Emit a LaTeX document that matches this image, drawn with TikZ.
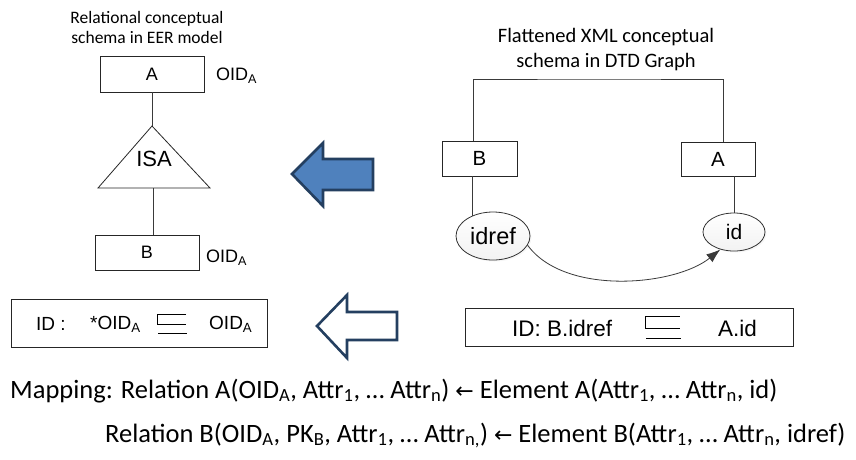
\documentclass[tikz,border=0pt]{standalone}
\usepackage{fontspec}
\setmainfont{Carlito}
\newfontfamily\arialf{Liberation Sans}
\newfontfamily\symf{DejaVu Sans}
\usetikzlibrary{arrows.meta,shadows,shapes.geometric}

\definecolor{navy}{HTML}{243F60}
\definecolor{officeblue}{HTML}{4F81BD}
\definecolor{linkgray}{HTML}{3A3A3A}

\begin{document}
\begin{tikzpicture}[x=1pt,y=1pt,
  entity/.style={draw=black!85, line width=0.8pt, inner sep=0pt,
    font=\arialf\fontsize{18}{18}\selectfont},
  xentity/.style={entity, font=\arialf\fontsize{20.5}{20.5}\selectfont},
  attrib/.style={ellipse, draw=black!80, line width=0.8pt, inner sep=0pt,
    top color=white, bottom color=black!5,
    drop shadow={opacity=0.07, shadow xshift=1.5pt, shadow yshift=-1.5pt},
    font=\arialf\fontsize{23.5}{23.5}\selectfont},
  link/.style={draw=linkgray, line width=0.8pt},
  heading/.style={align=center, font=\fontsize{17.5}{20}\selectfont, inner sep=0pt},
  sidelabel/.style={anchor=west, inner sep=0pt, font=\arialf\fontsize{18}{18}\selectfont},
  eqbox/.style={draw=black!85, line width=0.8pt, inner sep=0pt},
  eqtext/.style={anchor=west, inner sep=0pt, font=\arialf\fontsize{19}{19}\selectfont},
  maptext/.style={anchor=base west, inner sep=0pt, font=\fontsize{26.5}{29}\selectfont},
  bigarrow/.style={draw=navy, line width=2.6pt, line join=miter},
  subeq/.pic={
    \draw[line width=0.9pt] (29,0) -- (0,0) -- (0,-10) -- (29,-10);
    \draw[line width=0.9pt] (1,-19) -- (30,-19);
  }
]
\useasboundingbox (0,0) rectangle (856,-459);
\fill[white] (0,0) rectangle (856,-459);

% ---------- EER schema (left) ----------
\node[heading] (eertitle) at (147,-27) {Relational conceptual\\schema in EER model};
\node[entity, minimum width=104, minimum height=36] (eA) at (152,-74) {A};
\node[sidelabel] (oidA) at (216,-76) {OID\textsubscript{A}};

\coordinate (apex) at (152,-126);
\coordinate (bl) at (98,-188);
\coordinate (br) at (210,-188);
\coordinate (basemid) at (153,-188);
\draw[line width=0.8pt, draw=black!85] (apex) -- (br) -- (bl) -- cycle;
\node[inner sep=0pt, font=\arialf\fontsize{22}{22}\selectfont] (isa) at (154,-159) {ISA};

\node[entity, minimum width=104, minimum height=35] (eB) at (147,-252.5) {B};
\node[sidelabel] (oidB) at (206,-258) {OID\textsubscript{A}};

\draw[link] (eA.south) -- (apex);
\draw[link] (basemid) -- (basemid |- eB.north);

% ---------- DTD graph (right) ----------
\node[heading, font=\fontsize{20.5}{25}\selectfont] (dtdtitle) at (606,-50) {Flattened XML conceptual\\schema in DTD Graph};
\node[xentity, minimum width=75, minimum height=35] (xB) at (479.5,-158.5) {B};
\node[xentity, minimum width=74, minimum height=34] (xA) at (718,-159) {A};
\node[attrib, minimum width=74, minimum height=48] (idref) at (493,-236) {idref};
\node[attrib, minimum width=62, minimum height=38, font=\arialf\fontsize{21}{21}\selectfont] (id) at (734,-232) {id};

\coordinate (bar) at (600,-79);
\draw[link] ([xshift=-6.5pt]xB.north) |- (bar) -| ([xshift=5pt]xA.north);
\draw[link] (idref.135) -- (idref.135 |- xB.south);
\draw[link] (id.north) -- (id.north |- xA.south);
\draw[link, -{Latex[length=14pt,width=10pt]}]
  (idref.-15) .. controls (565,-296) and (675,-286) .. (id.-128);

% ---------- block arrows ----------
\draw[bigarrow, fill=officeblue]
  (292,-174) -- (323,-143) -- (323,-159) -- (373,-159) -- (373,-190)
  -- (323,-190) -- (323,-206) -- cycle;
\draw[bigarrow, fill=white]
  (317,-326) -- (347,-295) -- (347,-312) -- (397,-312) -- (397,-340)
  -- (347,-340) -- (347,-358) -- cycle;

% ---------- key constraints ----------
\node[eqbox, minimum width=256, minimum height=48] (eqL) at (139,-323) {};
\node[eqtext] (idL) at (36,-324) {ID :};
\node[eqtext] (oidL1) at (90,-324) {*OID\textsubscript{A}};
\pic at (157,-314) {subeq};
\node[eqtext] (oidL2) at (209,-324) {OID\textsubscript{A}};

\node[eqbox, minimum width=328, minimum height=38] (eqR) at (629,-327) {};
\node[eqtext, font=\arialf\fontsize{22.5}{22.5}\selectfont] (idR) at (512,-328) {ID: B.idref};
\pic[scale=1.2] at (645,-316) {subeq};
\node[eqtext, font=\arialf\fontsize{22.5}{22.5}\selectfont] (aid) at (718,-328) {A.id};

% ---------- mapping ----------
\node[maptext] (map1) at (10,-398) {Mapping: Relation A(OID\textsubscript{A}, Attr\textsubscript{1}, … Attr\textsubscript{n}) {\symf\fontsize{22}{22}\selectfont ←} Element A(Attr\textsubscript{1}, … Attr\textsubscript{n}, id)};
\node[maptext] (map2) at (105,-442) {Relation B(OID\textsubscript{A}, PK\textsubscript{B}, Attr\textsubscript{1}, … Attr\textsubscript{n,}) {\symf\fontsize{22}{22}\selectfont ←} Element B(Attr\textsubscript{1}, … Attr\textsubscript{n}, idref)};
\end{tikzpicture}
\end{document}
